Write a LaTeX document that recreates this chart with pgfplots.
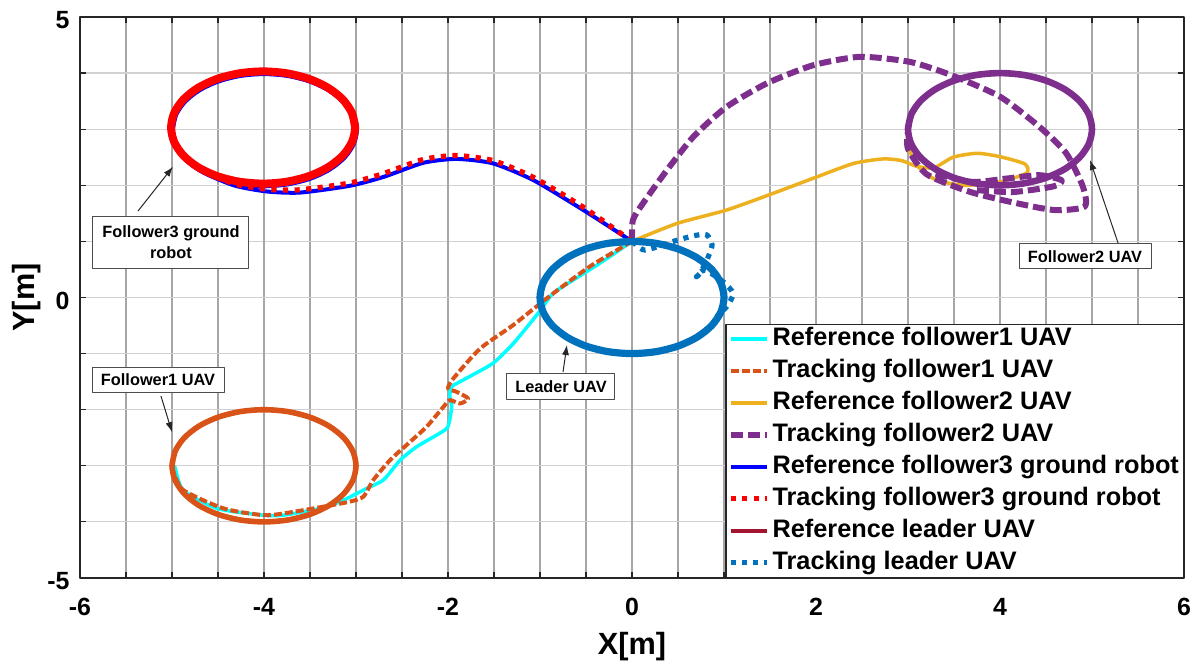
\documentclass[border=0pt]{standalone}
\usepackage{fontspec}
\setmainfont{Liberation Sans}
\usepackage{pgfplots}
\pgfplotsset{compat=1.18}
\usetikzlibrary{arrows.meta}
\definecolor{mcyan}{rgb}{0,1,1}
\definecolor{morange}{HTML}{D95319}
\definecolor{myellow}{HTML}{EDB120}
\definecolor{mpurple}{HTML}{7E2F8E}
\definecolor{mblue}{rgb}{0,0,1}
\definecolor{mred}{rgb}{1,0,0}
\definecolor{mdarkred}{HTML}{A2142F}
\definecolor{mlblue}{HTML}{0072BD}
\begin{document}
\begin{tikzpicture}
\begin{axis}[name=ax, scale only axis, width=552bp, height=280.5bp,
 xmin=-6, xmax=6, ymin=-5, ymax=5,
 xtick={-6,-5.5,-5,-4.5,-4,-3.5,-3,-2.5,-2,-1.5,-1,-0.5,0,0.5,1,1.5,2,2.5,3,3.5,4,4.5,5,5.5,6},
 xticklabels={-6,{},{},{},-4,{},{},{},-2,{},{},{},0,{},{},{},2,{},{},{},4,{},{},{},6},
 ytick={-5,-4,-3,-2,-1,0,1,2,3,4,5},
 yticklabels={-5,{},{},{},{},0,{},{},{},{},5},
 minor tick num=0,
 grid=major,
 major x grid style={black!35, line width=0.6bp},
 major y grid style={black!18, line width=0.6bp},
 extra x ticks={-4,-2,0,2,4}, extra x tick labels={},
 extra x tick style={grid=major, major grid style={black!55, line width=0.6bp}},
 extra y ticks={0}, extra y tick labels={},
 extra y tick style={grid=major, major grid style={black!50, line width=0.6bp}},
 axis line style={black!85, line width=0.6bp},
 tick style={black!85, line width=0.6bp},
 tick align=inside, major tick length=3bp,
 ticklabel style={font=\fontsize{12.5}{14}\selectfont\bfseries},
 xticklabel style={anchor=center, yshift=-14.5bp},
 yticklabel style={anchor=east, inner sep=0pt, xshift=-5bp, yshift=-1.5bp},
 xlabel={X[m]}, ylabel={Y[m]},
 label style={font=\fontsize{15.4}{18}\selectfont\bfseries},
 xlabel style={at={(axis description cs:0.5,-0.123)}, anchor=center},
 ylabel style={at={(axis description cs:-0.048,0.5)}, anchor=center},
 legend style={at={(1,0)}, anchor=south east, draw=black!85, line width=0.6bp, fill=white,
   font=\fontsize{12.7}{15}\selectfont\bfseries, inner sep=0.75bp, row sep=3.0bp,
   nodes={inner xsep=1.5bp, inner ysep=0pt, text height=10bp, text depth=3bp}},
 legend cell align=left,
 legend image code/.code={\draw[#1] (0bp,0bp) -- (18bp,0bp);},
 line join=round,
]
% Reference follower1
\addplot[mcyan, line width=1.75bp, smooth, tension=0.4] coordinates {(0,1) (-0.35,0.61) (-0.64,0.31) (-0.86,0.07) (-1.02,-0.28) (-1.29,-0.82) (-1.51,-1.17) (-1.80,-1.44) (-1.96,-1.59) (-1.98,-1.77) (-1.96,-1.95) (-2.0,-2.30) (-2.09,-2.42) (-2.34,-2.66) (-2.52,-2.90) (-2.70,-3.25) (-2.88,-3.40) (-3.17,-3.64) (-3.39,-3.76) (-3.79,-3.88) (-4.01,-3.88) (-4.51,-3.76) (-4.88,-3.43) (-4.97,-3.02) (-5,-3) (-4.9659,-2.7412) (-4.866,-2.5) (-4.7071,-2.2929) (-4.5,-2.134) (-4.2588,-2.0341) (-4,-2) (-3.7412,-2.0341) (-3.5,-2.134) (-3.2929,-2.2929) (-3.134,-2.5) (-3.0341,-2.7412) (-3,-3) (-3.0341,-3.2588) (-3.134,-3.5) (-3.2929,-3.7071) (-3.5,-3.866) (-3.7412,-3.9659) (-4,-4) (-4.2588,-3.9659) (-4.5,-3.866) (-4.7071,-3.7071) (-4.866,-3.5) (-4.9659,-3.2588) (-5,-3)};
% Tracking follower1
\addplot[morange, line width=2.8bp, smooth, forget plot] coordinates {(-5,-3) (-4.9659,-2.7412) (-4.866,-2.5) (-4.7071,-2.2929) (-4.5,-2.134) (-4.2588,-2.0341) (-4,-2) (-3.7412,-2.0341) (-3.5,-2.134) (-3.2929,-2.2929) (-3.134,-2.5) (-3.0341,-2.7412) (-3,-3) (-3.0341,-3.2588) (-3.134,-3.5) (-3.2929,-3.7071) (-3.5,-3.866) (-3.7412,-3.9659) (-4,-4) (-4.2588,-3.9659) (-4.5,-3.866) (-4.7071,-3.7071) (-4.866,-3.5) (-4.9659,-3.2588) (-5,-3) (-4.9659,-2.7412)};
\addplot[morange, line width=2bp, dash pattern=on 4bp off 1.5bp, smooth, tension=0.4] coordinates {(0,1) (-0.46,0.55) (-0.93,-0.02) (-1.29,-0.49) (-1.65,-0.91) (-1.94,-1.44) (-2.0,-1.62) (-1.91,-1.68) (-1.78,-1.80) (-1.87,-1.89) (-1.98,-1.83) (-2.05,-1.95) (-2.23,-2.30) (-2.41,-2.57) (-2.63,-2.90) (-2.81,-3.25) (-2.92,-3.55) (-3.07,-3.64) (-3.36,-3.73) (-3.79,-3.85) (-4.01,-3.88) (-4.44,-3.76) (-4.88,-3.43) (-4.99,-3.07)};
% Reference follower2
\addplot[myellow, line width=1.75bp, smooth, tension=0.4] coordinates {(0,1) (0.49,1.32) (1.03,1.56) (1.54,1.86) (2.01,2.15) (2.41,2.39) (2.73,2.47) (2.93,2.44) (3.09,2.34) (3.28,2.31) (3.49,2.50) (3.75,2.57) (4.0,2.51) (4.27,2.38) (4.29,2.22) (4.0,2.06) (3.6,2.0) (3.3,2.1) (3.1,2.35) (3.0,2.7) (3,3) (3.0341,3.2588) (3.134,3.5) (3.2929,3.7071) (3.5,3.866) (3.7412,3.9659) (4,4) (4.2588,3.9659) (4.5,3.866) (4.7071,3.7071) (4.866,3.5) (4.9659,3.2588) (5,3) (4.9659,2.7412) (4.866,2.5) (4.7071,2.2929) (4.5,2.134) (4.2588,2.0341) (4,2) (3.7412,2.0341) (3.5,2.134) (3.2929,2.2929) (3.134,2.5) (3.0341,2.7412) (3,3)};
% Tracking follower2
\addplot[mpurple, line width=3.3bp, smooth, forget plot] coordinates {(3,3) (3.0341,3.2588) (3.134,3.5) (3.2929,3.7071) (3.5,3.866) (3.7412,3.9659) (4,4) (4.2588,3.9659) (4.5,3.866) (4.7071,3.7071) (4.866,3.5) (4.9659,3.2588) (5,3) (4.9659,2.7412) (4.866,2.5) (4.7071,2.2929) (4.5,2.134) (4.2588,2.0341) (4,2) (3.7412,2.0341) (3.5,2.134) (3.2929,2.2929) (3.134,2.5) (3.0341,2.7412) (3,3) (3.0341,3.2588)};
\addplot[mpurple, line width=3bp, dash pattern=on 6bp off 2.5bp, smooth, tension=0.4, forget plot] coordinates {(3.3,2.2) (3.7,2.06) (4.07,2.12) (4.43,2.18) (4.67,2.09) (4.58,1.98) (4.14,1.88) (3.7,1.92)};
\addplot[mpurple, line width=3bp, dash pattern=on 6bp off 2.5bp, smooth, tension=0.4] coordinates {(0,1) (0.01,1.38) (0.12,1.68) (0.38,2.27) (0.67,2.87) (1.03,3.40) (1.47,3.82) (1.97,4.14) (2.48,4.29) (3.02,4.20) (3.46,3.97) (4.0,3.58) (4.43,3.04) (4.72,2.57) (4.90,1.98) (4.92,1.62) (4.58,1.56) (4.07,1.72) (3.64,1.90) (3.20,2.20) (3.0,2.65) (3.0,2.95)};
% Reference follower3
\addplot[mblue, line width=3bp, smooth, forget plot] coordinates {(-5,3) (-4.9659,3.2588) (-4.866,3.5) (-4.7071,3.7071) (-4.5,3.866) (-4.2588,3.9659) (-4,4) (-3.7412,3.9659) (-3.5,3.866) (-3.2929,3.7071) (-3.134,3.5) (-3.0341,3.2588) (-3,3) (-3.0341,2.7412) (-3.134,2.5) (-3.2929,2.2929) (-3.5,2.134) (-3.7412,2.0341) (-4,2) (-4.2588,2.0341) (-4.5,2.134) (-4.7071,2.2929) (-4.866,2.5) (-4.9659,2.7412) (-5,3) (-4.9659,3.2588)};
\addplot[mblue, line width=2bp, smooth, tension=0.4] coordinates {(0,1) (-0.53,1.56) (-1.07,2.09) (-1.51,2.39) (-1.91,2.47) (-2.27,2.40) (-2.70,2.15) (-3.07,1.99) (-3.61,1.87) (-3.97,1.89) (-4.33,2.0) (-4.70,2.27) (-4.95,2.69) (-5,3)};
% Tracking follower3
\addplot[mred, line width=4bp, smooth, forget plot] coordinates {(-3.01,3.03) (-3.0441,3.2888) (-3.144,3.53) (-3.3029,3.7371) (-3.51,3.896) (-3.7512,3.9959) (-4.01,4.03) (-4.2688,3.9959) (-4.51,3.896) (-4.7171,3.7371) (-4.876,3.53) (-4.9759,3.2888) (-5.01,3.03) (-4.9759,2.7712) (-4.876,2.53) (-4.7171,2.3229) (-4.51,2.164) (-4.2688,2.0641) (-4.01,2.03) (-3.7512,2.0641) (-3.51,2.164) (-3.3029,2.3229) (-3.144,2.53) (-3.0441,2.7712) (-3.01,3.03) (-3.0441,3.2888)};
\addplot[mred, line width=2.6bp, dash pattern=on 2.6bp off 3.2bp, smooth, tension=0.4] coordinates {(0,1) (-0.53,1.61) (-1.07,2.14) (-1.51,2.44) (-1.91,2.53) (-2.27,2.46) (-2.70,2.21) (-3.07,2.04) (-3.61,1.92) (-3.97,1.93) (-4.33,2.03) (-4.70,2.3) (-4.97,2.72) (-5.01,3.03)};
% Reference leader
\addplot[mdarkred, line width=1.75bp, smooth] coordinates {(0,1) (-0.2588,0.9659) (-0.5,0.866) (-0.7071,0.7071) (-0.866,0.5) (-0.9659,0.2588) (-1,0) (-0.9659,-0.2588) (-0.866,-0.5) (-0.7071,-0.7071) (-0.5,-0.866) (-0.2588,-0.9659) (0,-1) (0.2588,-0.9659) (0.5,-0.866) (0.7071,-0.7071) (0.866,-0.5) (0.9659,-0.2588) (1,0) (0.9659,0.2588) (0.866,0.5) (0.7071,0.7071) (0.5,0.866) (0.2588,0.9659) (0,1)};
% Tracking leader
\addplot[mlblue, line width=3.6bp, smooth, forget plot] coordinates {(0,1) (-0.2588,0.9659) (-0.5,0.866) (-0.7071,0.7071) (-0.866,0.5) (-0.9659,0.2588) (-1,0) (-0.9659,-0.2588) (-0.866,-0.5) (-0.7071,-0.7071) (-0.5,-0.866) (-0.2588,-0.9659) (0,-1) (0.2588,-0.9659) (0.5,-0.866) (0.7071,-0.7071) (0.866,-0.5) (0.9659,-0.2588) (1,0) (0.9659,0.2588) (0.866,0.5) (0.7071,0.7071) (0.5,0.866) (0.2588,0.9659) (0,1) (-0.2588,0.9659)};
\addplot[mlblue, line width=2.6bp, dash pattern=on 2.6bp off 3bp, smooth, tension=0.4] coordinates {(0,1) (0.12,0.85) (0.23,0.88) (0.45,1.0) (0.67,1.10) (0.81,1.12) (0.87,0.94) (0.83,0.73) (0.74,0.43) (0.70,0.37) (0.79,0.49) (0.99,0.28) (1.10,0.07) (1.03,-0.16) (0.92,-0.34)};
\legend{Reference follower1 UAV, Tracking follower1 UAV, Reference follower2 UAV, Tracking follower2 UAV, Reference follower3 ground robot, Tracking follower3 ground robot, Reference leader UAV, Tracking leader UAV}
% annotations
\tikzset{annbox/.style={draw=black!70, fill=white, line width=0.5bp, inner sep=0pt, align=center, font=\fontsize{8.2}{10.7}\selectfont\bfseries},
 annarrow/.style={black!85, line width=0.5bp, -{Latex[length=5bp,width=3.5bp]}}}
\draw[annarrow] (axis cs:-5.37,1.54) -- (axis cs:-4.99,2.33);
\node[annbox, minimum width=78bp, minimum height=26bp] at (axis cs:-5.011,0.989) {Follower3 ground\\robot};
\draw[annarrow] (axis cs:-5.12,-1.756) -- (axis cs:-5.0,-2.40);
\node[annbox, minimum width=66bp, minimum height=12.5bp] at (axis cs:-5.152,-1.462) {Follower1 UAV};
\draw[annarrow] (axis cs:-0.75,-1.328) -- (axis cs:-0.707,-0.847);
\node[annbox, minimum width=54bp, minimum height=13bp] at (axis cs:-0.772,-1.595) {Leader UAV};
\draw[annarrow] (axis cs:5.283,0.972) -- (axis cs:4.978,2.451);
\node[annbox, minimum width=66bp, minimum height=12.5bp] at (axis cs:4.924,0.731) {Follower2 UAV};
\end{axis}
\pgfresetboundingbox
\path[use as bounding box] ([xshift=-40bp,yshift=-43bp]ax.south west) rectangle ([xshift=6bp,yshift=8.5bp]ax.north east);
\end{tikzpicture}
\end{document}
